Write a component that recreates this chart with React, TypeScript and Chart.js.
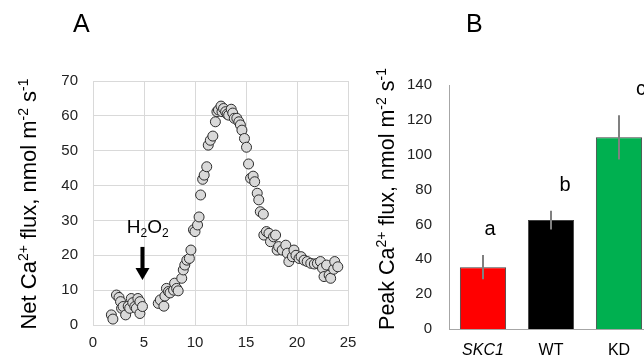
import React, { useEffect, useRef } from "react";
import { Chart, registerables } from "chart.js";

Chart.register(...registerables);

const FONT = "'Liberation Sans', Arial, sans-serif";

// Panel A: net Ca2+ flux time course
const timeMin = [
  1.8, 1.95, 2.3, 2.55, 2.7, 2.8, 2.95, 3.2, 3.45, 3.6, 3.75, 3.9, 4.1, 4.25, 4.4, 4.6, 4.6, 4.85,
  6.4, 6.6, 6.95, 7.05, 7.2, 7.4, 7.55, 7.9, 8.0, 8.2, 8.35, 8.7, 8.85, 9.0, 9.2, 9.45, 9.6, 9.85,
  10.0, 10.25, 10.4, 10.55, 10.75, 10.9, 11.15, 11.3, 11.5, 11.75, 12.0, 12.15, 12.3, 12.55, 12.65,
  12.8, 13.0, 13.15, 13.3, 13.55, 13.7, 13.85, 14.1, 14.3, 14.45, 14.6, 14.85, 15.05, 15.25, 15.45,
  15.7, 15.85, 16.1, 16.25, 16.4, 16.7, 16.75, 17.0, 17.25, 17.4, 17.7, 17.9, 18.05, 18.2, 18.55,
  18.9, 19.05, 19.2, 19.55, 19.7, 19.9, 20.2, 20.4, 20.7, 21.0, 21.35, 21.7, 22.0, 22.3, 22.5, 22.65,
  22.9, 23.15, 23.3, 23.6, 23.7, 24.0,
];
const netFlux = [
  2.9, 1.7, 8.6, 7.9, 6.7, 4.8, 5.3, 2.9, 5.4, 4.8, 7.6, 6.4, 5.3, 4.8, 7.6, 6.7, 3.3, 5.3,
  6.2, 7.2, 5.4, 8.3, 10.5, 9.6, 9.2, 10, 12, 10.5, 9.8, 13.4, 15.8, 17.2, 18.6, 19.1, 21.5, 27.3,
  26.8, 28.7, 31, 37.3, 41.8, 43, 45.4, 51.6, 53, 54.2, 58.3, 61.2, 61.7, 62.8, 61.2,
  62.1, 61.2, 60.5, 60.2, 61.9, 60.8, 59.3, 59.3, 58.3, 57.4, 55.9, 53.5, 51, 46.2, 42.1,
  42.7, 41.1, 37.8, 35.9, 32.5, 31.8, 25.8, 26.8, 26.3, 23.9, 25.3, 25.8, 21.5, 22.5, 21.5,
  22.9, 20.6, 18.2, 19.6, 21.5, 20, 19.1, 19.6, 18.6, 18.2, 17.7, 17.5, 17.7, 18.2, 16.3, 13.9,
  17.2, 14.3, 13.4, 16, 18.2, 16.7,
];
const h2o2Time = 4.85;
const arrowTop = 22.4;
const arrowTip = 12.9;

// Panel B: peak flux
const genotypes = ["SKC1", "WT", "KD"];
const peakFlux = [35.5, 62.5, 110];
const peakErr = [7, 5.4, 12.7];
const sigLetters = ["a", "b", "c"];
const barColors = ["#FF0000", "#000000", "#00B050"];

type Part = { t: string; sup?: boolean; sub?: boolean; italic?: boolean };

function partFont(p: Part, size: number) {
  const s = p.sup || p.sub ? Math.round(size * 0.65) : size;
  return `${p.italic ? "italic " : ""}${s}px ${FONT}`;
}

function drawRich(ctx: CanvasRenderingContext2D, parts: Part[], x: number, y: number, size: number) {
  let total = 0;
  const widths = parts.map((p) => {
    ctx.font = partFont(p, size);
    const w = ctx.measureText(p.t).width;
    total += w;
    return w;
  });
  let cx = x - total / 2;
  ctx.textAlign = "left";
  ctx.textBaseline = "alphabetic";
  parts.forEach((p, i) => {
    ctx.font = partFont(p, size);
    const dy = p.sup ? -size * 0.36 : p.sub ? size * 0.22 : 0;
    ctx.fillText(p.t, cx, y + dy);
    cx += widths[i];
  });
}

function drawVertical(ctx: CanvasRenderingContext2D, parts: Part[], bx: number, cy: number, size: number) {
  ctx.save();
  ctx.translate(bx, cy);
  ctx.rotate(-Math.PI / 2);
  ctx.fillStyle = "#000";
  drawRich(ctx, parts, 0, 0, size);
  ctx.restore();
}

const titleA: Part[] = [
  { t: "Net Ca" }, { t: "2+", sup: true }, { t: " flux, nmol m" }, { t: "-2", sup: true }, { t: " s" }, { t: "-1", sup: true },
];
const titleB: Part[] = [
  { t: "Peak Ca" }, { t: "2+", sup: true }, { t: " flux, nmol m" }, { t: "-2", sup: true }, { t: " s" }, { t: "-1", sup: true },
];

export default function App() {
  const refA = useRef<HTMLCanvasElement>(null);
  const refB = useRef<HTMLCanvasElement>(null);

  useEffect(() => {
    const annotA = {
      id: "annotA",
      afterDraw(chart: any) {
        const ctx = chart.ctx as CanvasRenderingContext2D;
        const xs = chart.scales.x;
        const ys = chart.scales.y;
        ctx.save();
        ctx.fillStyle = "#000";
        ctx.font = `25px ${FONT}`;
        ctx.textAlign = "left";
        ctx.textBaseline = "alphabetic";
        ctx.fillText("A", 73, 32);
        drawVertical(ctx, titleA, 36, 204, 22);
        ctx.fillStyle = "#000";
        drawRich(
          ctx,
          [{ t: "H" }, { t: "2", sub: true }, { t: "O" }, { t: "2", sub: true }],
          xs.getPixelForValue(h2o2Time + 0.52),
          ys.getPixelForValue(26.4),
          19
        );
        const ax = xs.getPixelForValue(h2o2Time);
        const yTop = ys.getPixelForValue(arrowTop);
        const yTip = ys.getPixelForValue(arrowTip);
        const headH = 12;
        ctx.fillRect(ax - 2, yTop, 4, yTip - yTop - headH + 1);
        ctx.beginPath();
        ctx.moveTo(ax - 7, yTip - headH);
        ctx.lineTo(ax + 7, yTip - headH);
        ctx.lineTo(ax, yTip);
        ctx.closePath();
        ctx.fill();
        ctx.restore();
      },
    };

    const chartA = new Chart(refA.current!, {
      type: "scatter",
      data: {
        datasets: [
          {
            data: timeMin.map((x, i) => ({ x, y: netFlux[i] })),
            pointRadius: 5,
            pointBackgroundColor: "#d9d9d9",
            pointBorderColor: "#2b2b2b",
            pointBorderWidth: 1,
          },
        ],
      },
      options: {
        animation: false,
        responsive: false,
        maintainAspectRatio: false,
        layout: { padding: { top: 81, right: 22, left: 0, bottom: 0 } },
        plugins: { legend: { display: false }, tooltip: { enabled: false } },
        scales: {
          x: {
            type: "linear",
            min: 0,
            max: 25,
            ticks: { stepSize: 5, padding: 9, color: "#222", font: { family: FONT, size: 15 } },
            grid: { color: "#d9d9d9", drawTicks: false },
            border: { color: "#d9d9d9" },
            afterFit: (s: any) => {
              s.height = 31;
            },
          },
          y: {
            min: 0,
            max: 70,
            ticks: { stepSize: 10, padding: 15, color: "#222", font: { family: FONT, size: 15 } },
            grid: { color: "#d9d9d9", drawTicks: false },
            border: { color: "#d9d9d9" },
            afterFit: (s: any) => {
              s.width = 93;
            },
          },
        },
      } as any,
      plugins: [annotA],
    });

    const annotB = {
      id: "annotB",
      afterDatasetsDraw(chart: any) {
        const ctx = chart.ctx as CanvasRenderingContext2D;
        const ys = chart.scales.y;
        const meta = chart.getDatasetMeta(0);
        const offsets = [7, 14, 22];
        ctx.save();
        ctx.strokeStyle = "#808080";
        ctx.lineWidth = 2;
        meta.data.forEach((bar: any, i: number) => {
          const y1 = ys.getPixelForValue(peakFlux[i] + peakErr[i]);
          const y2 = ys.getPixelForValue(peakFlux[i] - peakErr[i]);
          ctx.beginPath();
          ctx.moveTo(bar.x, y1);
          ctx.lineTo(bar.x, y2);
          ctx.stroke();
          ctx.fillStyle = "#000";
          ctx.font = `20px ${FONT}`;
          ctx.textAlign = "center";
          ctx.textBaseline = "alphabetic";
          ctx.fillText(sigLetters[i], bar.x + offsets[i], y1 - 20);
        });
        ctx.fillStyle = "#000";
        ctx.font = `25px ${FONT}`;
        ctx.textAlign = "left";
        ctx.fillText("B", 106, 32);
        drawVertical(ctx, titleB, 34, 199, 21.5);
        ctx.restore();
      },
    };

    const chartB = new Chart(refB.current!, {
      type: "bar",
      data: {
        labels: genotypes,
        datasets: [
          {
            data: peakFlux,
            backgroundColor: barColors,
            borderColor: "#404040",
            borderWidth: 1,
            barPercentage: 0.68,
            categoryPercentage: 1,
          },
        ],
      },
      options: {
        animation: false,
        responsive: false,
        maintainAspectRatio: false,
        layout: { padding: { top: 85, right: 17, left: 0, bottom: 0 } },
        plugins: { legend: { display: false }, tooltip: { enabled: false } },
        scales: {
          x: {
            ticks: {
              padding: 4,
              color: "#000",
              font: (c: any) => ({ family: FONT, size: 16, style: c.index === 0 ? "italic" : "normal" }),
            },
            grid: { display: false },
            border: { color: "#a6a6a6" },
            afterFit: (s: any) => {
              s.height = 27;
            },
          },
          y: {
            min: 0,
            max: 140,
            ticks: { stepSize: 20, padding: 9, color: "#222", font: { family: FONT, size: 15 } },
            grid: { display: false },
            border: { color: "#a6a6a6" },
            afterFit: (s: any) => {
              s.width = 89;
            },
          },
        },
      } as any,
      plugins: [annotB],
    });

    return () => {
      chartA.destroy();
      chartB.destroy();
    };
  }, []);

  return (
    <div
      style={{
        position: "fixed",
        left: 0,
        top: 0,
        width: 644,
        height: 356,
        overflow: "hidden",
        background: "#fff",
      }}
    >
      <canvas
        ref={refA}
        width={370}
        height={356}
        style={{ position: "absolute", left: 0, top: 0, width: 370, height: 356 }}
      />
      <canvas
        ref={refB}
        width={310}
        height={356}
        style={{ position: "absolute", left: 360, top: 0, width: 310, height: 356 }}
      />
    </div>
  );
}
